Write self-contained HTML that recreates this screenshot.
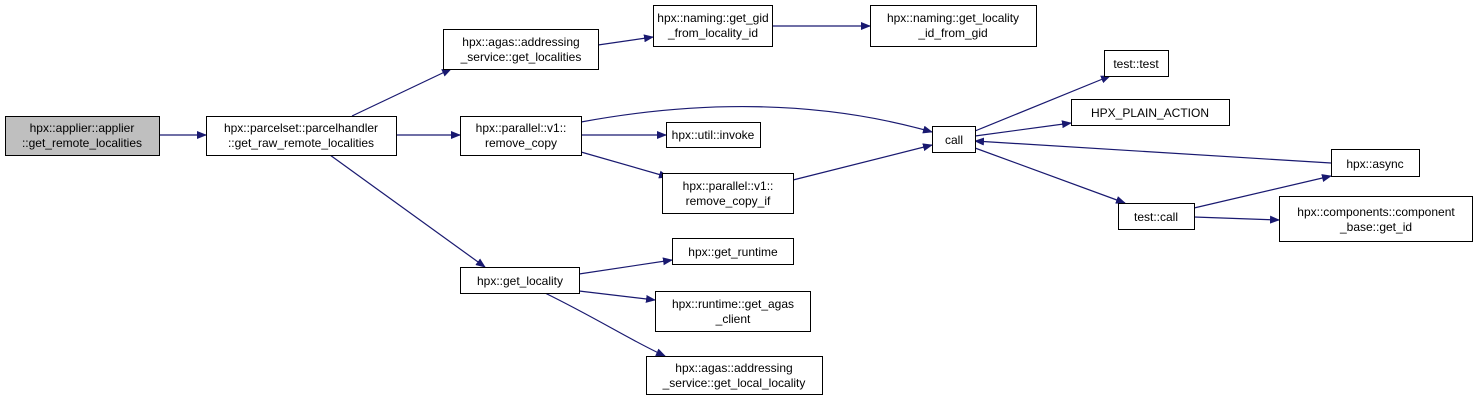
<!DOCTYPE html>
<html><head><meta charset="utf-8"><style>
body{margin:0;background:#fff;width:1479px;height:403px;overflow:hidden}
svg text{font-family:"Liberation Sans",Arial,sans-serif;font-size:12px;fill:#000}
</style></head><body>
<svg width="1479" height="403" xmlns="http://www.w3.org/2000/svg">
<defs><marker id="a" markerWidth="10" markerHeight="8" refX="9" refY="4" orient="auto" markerUnits="userSpaceOnUse"><path d="M0,0 L10,4 L0,8 z" fill="#191970"/></marker></defs>
<g stroke="#191970" stroke-width="1.2" fill="none" marker-end="url(#a)">
<path d="M159,135 L206,135"/>
<path d="M352,116 L451,69"/>
<path d="M396,135 L460,135"/>
<path d="M330,155 L485,267"/>
<path d="M598,45 L653,37"/>
<path d="M772,26 L870,26"/>
<path d="M581,122 C700,100 820,100 932,132"/>
<path d="M581,135 L666,135"/>
<path d="M581,152 L668,177"/>
<path d="M793,180 L932,145"/>
<path d="M975,131 L1110,76"/>
<path d="M975,136 L1071,123"/>
<path d="M1331,163 L975,141"/>
<path d="M975,148 L1125,203"/>
<path d="M1194,208 L1331,176"/>
<path d="M1194,217 L1279,220"/>
<path d="M579,274 L672,260"/>
<path d="M579,291 L655,300"/>
<path d="M545,293 C600,320 630,340 665,356"/>
</g>
<g stroke="#000" stroke-width="1" fill="#fff">
<rect x="5.5" y="116.5" width="154" height="39" fill="#bfbfbf"/>
<rect x="206.5" y="116.5" width="190" height="39"/>
<rect x="443.5" y="29.5" width="155" height="40"/>
<rect x="460.5" y="116.5" width="121" height="39"/>
<rect x="653.5" y="5.5" width="119" height="41"/>
<rect x="870.5" y="5.5" width="166" height="41"/>
<rect x="1104.5" y="50.5" width="64" height="26"/>
<rect x="1071.5" y="99.5" width="158" height="26"/>
<rect x="666.5" y="122.5" width="94" height="25"/>
<rect x="932.5" y="126.5" width="43" height="26"/>
<rect x="662.5" y="173.5" width="131" height="40"/>
<rect x="1118.5" y="203.5" width="76" height="26"/>
<rect x="1331.5" y="149.5" width="88" height="27"/>
<rect x="1279.5" y="196.5" width="193" height="45"/>
<rect x="460.5" y="267.5" width="119" height="26"/>
<rect x="672.5" y="238.5" width="121" height="26"/>
<rect x="655.5" y="291.5" width="155" height="40"/>
<rect x="646.5" y="356.5" width="176" height="38"/>
</g>
<g text-anchor="middle">
<text x="82" y="132">hpx::applier::applier</text><text x="82" y="147">::get_remote_localities</text>
<text x="301" y="132">hpx::parcelset::parcelhandler</text><text x="301" y="147">::get_raw_remote_localities</text>
<text x="521" y="46">hpx::agas::addressing</text><text x="521" y="61">_service::get_localities</text>
<text x="521" y="132">hpx::parallel::v1::</text><text x="521" y="147">remove_copy</text>
<text x="713" y="22">hpx::naming::get_gid</text><text x="713" y="37">_from_locality_id</text>
<text x="953" y="22">hpx::naming::get_locality</text><text x="953" y="37">_id_from_gid</text>
<text x="1136" y="68">test::test</text>
<text x="1150" y="117">HPX_PLAIN_ACTION</text>
<text x="713" y="139">hpx::util::invoke</text>
<text x="954" y="144">call</text>
<text x="728" y="190">hpx::parallel::v1::</text><text x="728" y="205">remove_copy_if</text>
<text x="1156" y="221">test::call</text>
<text x="1375" y="168">hpx::async</text>
<text x="1376" y="216">hpx::components::component</text><text x="1376" y="231">_base::get_id</text>
<text x="520" y="285">hpx::get_locality</text>
<text x="733" y="256">hpx::get_runtime</text>
<text x="733" y="308">hpx::runtime::get_agas</text><text x="733" y="323">_client</text>
<text x="734" y="372">hpx::agas::addressing</text><text x="734" y="387">_service::get_local_locality</text>
</g>
</svg>
</body></html>
